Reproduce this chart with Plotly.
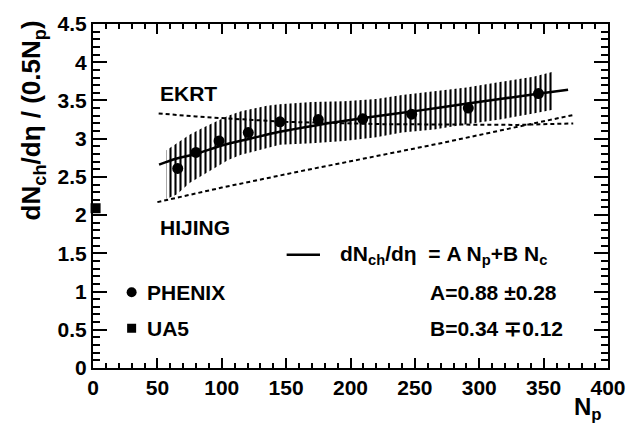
import plotly.graph_objects as go

# ---- data ----
phenix_np = [65.8, 80.0, 97.9, 120.6, 145.2, 175.0, 209.5, 247.5, 291.5, 346.0]
phenix_y = [2.61, 2.82, 2.97, 3.08, 3.22, 3.25, 3.26, 3.32, 3.40, 3.59]

ua5_np = [2.0]
ua5_y = [2.09]

band_np = [57, 65, 75, 85, 95, 105, 115, 125, 135, 145, 170, 195, 220, 240, 265, 290, 316, 342, 358]
band_hi = [2.85, 2.94, 3.05, 3.14, 3.22, 3.30, 3.36, 3.40, 3.43, 3.45, 3.48, 3.49, 3.52, 3.57, 3.62, 3.67, 3.74, 3.81, 3.88]
band_lo = [2.21, 2.27, 2.42, 2.51, 2.62, 2.72, 2.79, 2.84, 2.88, 2.92, 2.94, 2.97, 3.02, 3.08, 3.12, 3.19, 3.25, 3.33, 3.38]

fit_np = [51.3, 65, 80, 100, 122, 145, 175, 210, 254, 291, 347, 369]
fit_y = [2.66, 2.74, 2.80, 2.91, 3.00, 3.09, 3.18, 3.27, 3.37, 3.46, 3.59, 3.64]

ekrt_np = [51, 80, 109, 150, 223, 280, 330, 373]
ekrt_y = [3.33, 3.29, 3.26, 3.22, 3.19, 3.18, 3.18, 3.20]

hijing_np = [50, 100, 160, 220, 270, 320, 373]
hijing_y = [2.17, 2.36, 2.57, 2.77, 2.94, 3.12, 3.31]

FONT = "Liberation Sans, Arial, Helvetica, sans-serif"

fig = go.Figure()

# systematic error band (vertical hatch)
fig.add_trace(go.Scatter(
    x=band_np + band_np[::-1],
    y=band_hi + band_lo[::-1],
    fill="toself", mode="lines", line=dict(width=0, color="black"),
    fillcolor="rgba(0,0,0,0)",
    fillpattern=dict(shape="|", size=5, solidity=0.42, fgcolor="black",
                     bgcolor="rgba(0,0,0,0)", fillmode="replace"),
    hoverinfo="skip", showlegend=False))

fig.add_trace(go.Scatter(x=ekrt_np, y=ekrt_y, mode="lines",
                         line=dict(color="black", width=2, dash="4px,3px"), showlegend=False))
fig.add_trace(go.Scatter(x=hijing_np, y=hijing_y, mode="lines",
                         line=dict(color="black", width=2, dash="4px,3px"), showlegend=False))
fig.add_trace(go.Scatter(x=fit_np, y=fit_y, mode="lines", line_shape="spline",
                         line=dict(color="black", width=2.5), showlegend=False))
fig.add_trace(go.Scatter(x=phenix_np, y=phenix_y, mode="markers",
                         marker=dict(symbol="circle", size=11, color="black"), showlegend=False))
fig.add_trace(go.Scatter(x=ua5_np, y=ua5_y, mode="markers", cliponaxis=False,
                         marker=dict(symbol="square", size=10, color="black"), showlegend=False))

axis_common = dict(showline=True, linecolor="black", linewidth=2, mirror="allticks",
                   ticks="inside", tickcolor="black", tickwidth=2, showgrid=False,
                   zeroline=False, tickfont=dict(family=FONT, size=21, color="black", weight="bold"))

fig.update_xaxes(range=[0, 400], tick0=0, dtick=50, ticklen=10,
                 minor=dict(ticks="inside", dtick=10, ticklen=5, tickwidth=1.5, tickcolor="black"),
                 **axis_common)
fig.update_yaxes(range=[0, 4.5], tick0=0, dtick=0.5, ticklen=14, tickformat="~g",
                 minor=dict(ticks="inside", dtick=0.1, ticklen=7, tickwidth=1.5, tickcolor="black"),
                 **axis_common)

tf = dict(family=FONT, size=21, color="black", weight="bold")
ann = []
ann.append(dict(x=50.5, y=3.59, xref="x", yref="y", text="EKRT", xanchor="left", yanchor="middle", showarrow=False, font=tf))
ann.append(dict(x=50.5, y=1.84, xref="x", yref="y", text="HIJING", xanchor="left", yanchor="middle", showarrow=False, font=tf))
ann.append(dict(x=190.3, y=1.48, xref="x", yref="y",
                text="dN<sub>ch</sub>/dη  = A N<sub>p</sub>+B N<sub>c</sub>",
                xanchor="left", yanchor="middle", showarrow=False, font=tf))
ann.append(dict(x=40.4, y=0.99, xref="x", yref="y", text="PHENIX", xanchor="left", yanchor="middle", showarrow=False, font=tf))
ann.append(dict(x=40.4, y=0.52, xref="x", yref="y", text="UA5", xanchor="left", yanchor="middle", showarrow=False, font=tf))
ann.append(dict(x=260.2, y=0.99, xref="x", yref="y", text="A=0.88 ±0.28", xanchor="left", yanchor="middle", showarrow=False, font=tf))
ann.append(dict(x=260.2, y=0.52, xref="x", yref="y", text="B=0.34 ∓0.12", xanchor="left", yanchor="middle", showarrow=False, font=tf))
# axis titles
ann.append(dict(x=0.992, y=-0.068, xref="paper", yref="paper", text="N<sub>p</sub>",
                xanchor="right", yanchor="top", showarrow=False,
                font=dict(family=FONT, size=24, color="black", weight="bold")))
ann.append(dict(x=-0.118, y=1.017, xref="paper", yref="paper", text="dN<sub>ch</sub>/dη / (0.5N<sub>p</sub>)",
                textangle=-90, xanchor="center", yanchor="top", showarrow=False,
                font=dict(family=FONT, size=26, color="black", weight="bold")))

shapes = [
    dict(type="line", xref="x", yref="y", x0=150.4, x1=176.3, y0=1.48, y1=1.48,
         line=dict(color="black", width=2.5)),
    dict(type="circle", xref="x", yref="y", xsizemode="pixel", ysizemode="pixel",
         xanchor=30, yanchor=0.99, x0=-5, x1=5, y0=-5, y1=5,
         fillcolor="black", line=dict(color="black", width=0)),
    dict(type="rect", xref="x", yref="y", xsizemode="pixel", ysizemode="pixel",
         xanchor=30, yanchor=0.52, x0=-4.5, x1=4.5, y0=-4.5, y1=4.5,
         fillcolor="black", line=dict(color="black", width=0)),
]

fig.update_layout(width=639, height=425, margin=dict(l=93, r=31, t=18, b=57),
                  plot_bgcolor="white", paper_bgcolor="white",
                  annotations=ann, shapes=shapes, showlegend=False)

fig.write_html("out.html")
